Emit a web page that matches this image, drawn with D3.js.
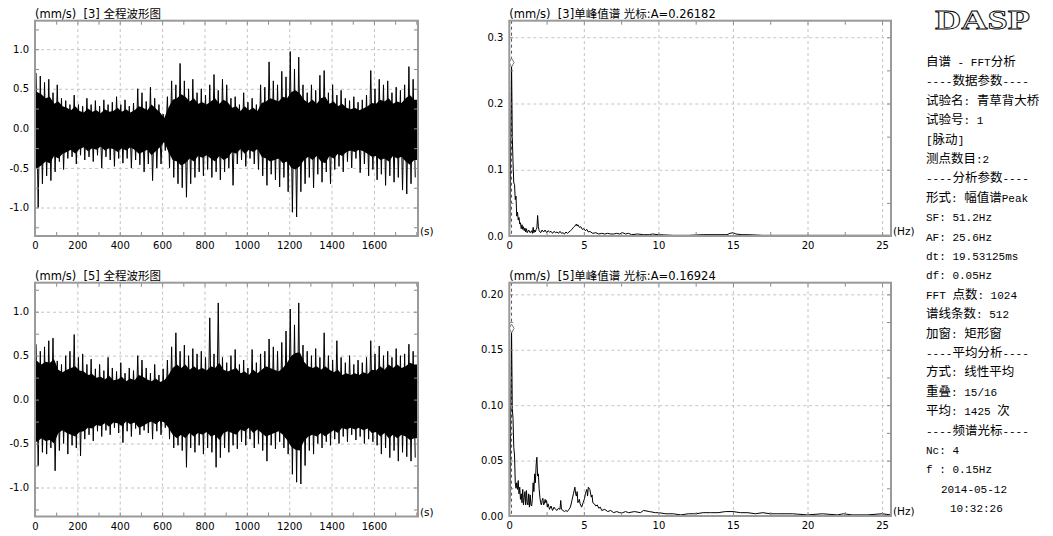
<!DOCTYPE html>
<html>
<head>
<meta charset="utf-8">
<script src="https://cdn.jsdelivr.net/npm/d3@7"></script>
<style>
  body { margin: 0; background: #fff; }
  svg { display: block; }
  .lbl text { font-family: "DejaVu Sans", sans-serif; font-size: 10px; fill: #000; }
  .grid line { stroke: #c4c4c4; stroke-dasharray: 3,3; }
  .inner line { stroke: #8a8a8a; }
  .title { font-family: "DejaVu Sans", "Noto Sans CJK SC", sans-serif; font-size: 11.5px; fill: #000; }
  .unit { font-family: "DejaVu Sans", sans-serif; font-size: 10.5px; fill: #000; }
  .info { white-space: pre; fill: #000; }
</style>
</head>
<body>
<svg id="chart" width="1053" height="536"></svg>
<script>
// ---- data ----
// waveform peaks per 20 s bin (channel 3)
const binSec = 20;
const hi3 = [0.70,0.66,0.58,0.62,0.45,0.55,0.38,0.35,0.30,0.42,
             0.30,0.28,0.38,0.30,0.35,0.28,0.36,0.30,0.33,0.40,
             0.30,0.36,0.28,0.32,0.50,0.45,0.34,0.52,0.38,0.30,
             0.18,0.40,0.60,0.55,0.82,0.60,0.50,0.62,0.45,0.50,
             0.42,0.55,0.68,0.48,0.62,0.55,0.38,0.40,0.30,0.45,
             0.33,0.38,0.30,0.55,0.52,0.84,0.60,0.55,0.72,0.65,
             0.97,0.75,0.90,0.55,0.45,0.55,0.48,0.67,0.73,0.45,
             0.55,0.42,0.48,0.38,0.35,0.40,0.33,0.36,0.42,0.73,
             0.50,0.62,0.55,0.60,0.45,0.52,0.48,0.55,0.78,0.62];
const lo3 = [-1.00,-0.70,-0.60,-0.66,-0.55,-0.42,-0.52,-0.38,-0.36,-0.45,
             -0.34,-0.40,-0.36,-0.42,-0.34,-0.50,-0.36,-0.40,-0.48,-0.38,
             -0.44,-0.38,-0.50,-0.40,-0.46,-0.55,-0.45,-0.66,-0.50,-0.45,
             -0.28,-0.50,-0.62,-0.70,-0.75,-0.87,-0.70,-0.62,-0.55,-0.60,
             -0.52,-0.62,-0.55,-0.65,-0.55,-0.50,-0.72,-0.45,-0.40,-0.48,
             -0.38,-0.45,-0.52,-0.60,-0.72,-0.58,-0.65,-0.74,-0.62,-0.80,
             -1.06,-1.12,-0.80,-0.70,-0.62,-0.75,-0.58,-0.68,-0.55,-0.70,
             -0.52,-0.48,-0.55,-0.42,-0.50,-0.38,-0.56,-0.45,-0.60,-0.52,
             -0.65,-0.58,-0.72,-0.60,-0.68,-0.62,-0.78,-0.83,-0.70,-0.62];
// half width of the solid band, per 20 s bin
const core3 = [0.48,0.45,0.40,0.42,0.33,0.36,0.30,0.28,0.25,0.30,
               0.24,0.22,0.27,0.23,0.25,0.21,0.26,0.23,0.24,0.28,
               0.23,0.26,0.22,0.25,0.30,0.28,0.25,0.32,0.27,0.22,
               0.15,0.28,0.38,0.40,0.45,0.42,0.36,0.40,0.33,0.35,
               0.32,0.36,0.40,0.33,0.38,0.35,0.28,0.30,0.24,0.30,
               0.25,0.28,0.24,0.34,0.36,0.40,0.38,0.36,0.42,0.40,
               0.48,0.50,0.46,0.38,0.34,0.38,0.33,0.40,0.42,0.33,
               0.36,0.30,0.33,0.28,0.26,0.28,0.25,0.27,0.30,0.34,
               0.33,0.38,0.36,0.40,0.33,0.36,0.34,0.40,0.44,0.38];

// channel 5
const hi5 = [0.63,0.55,0.60,0.67,0.70,0.44,0.40,0.50,0.55,0.74,
             0.48,0.52,0.40,0.46,0.35,0.40,0.33,0.48,0.36,0.32,
             0.42,0.30,0.36,0.33,0.50,0.45,0.36,0.30,0.40,0.28,
             0.35,0.45,0.60,0.76,0.55,0.62,0.50,0.58,0.52,0.55,
             0.48,0.93,0.52,1.10,0.48,0.42,0.50,0.57,0.40,0.45,
             0.36,0.57,0.42,0.52,0.55,0.69,0.60,0.55,0.65,0.78,
             1.03,0.85,1.10,0.62,0.55,0.50,0.58,0.48,0.76,0.50,
             0.45,0.67,0.48,0.42,0.50,0.40,0.45,0.42,0.48,0.67,
             0.52,0.61,0.50,0.55,0.48,0.58,0.50,0.52,0.63,0.55];
const lo5 = [-0.75,-0.60,-0.62,-0.55,-0.81,-0.58,-0.50,-0.62,-0.52,-0.55,
             -0.64,-0.45,-0.40,-0.47,-0.36,-0.42,-0.35,-0.40,-0.32,-0.38,
             -0.49,-0.36,-0.42,-0.33,-0.40,-0.35,-0.38,-0.45,-0.36,-0.40,
             -0.32,-0.45,-0.55,-0.52,-0.58,-0.77,-0.55,-0.60,-0.52,-0.62,
             -0.55,-0.60,-0.77,-0.66,-0.55,-0.60,-0.52,-0.56,-0.48,-0.52,
             -0.45,-0.55,-0.50,-0.58,-0.70,-0.52,-0.56,-0.48,-0.55,-0.62,
             -0.85,-0.94,-0.96,-0.75,-0.58,-0.62,-0.50,-0.55,-0.48,-0.52,
             -0.45,-0.50,-0.42,-0.48,-0.40,-0.46,-0.42,-0.50,-0.45,-0.48,
             -0.52,-0.62,-0.55,-0.66,-0.58,-0.70,-0.60,-0.65,-0.70,-0.66];
const core5 = [0.46,0.42,0.45,0.44,0.48,0.36,0.33,0.36,0.38,0.40,
               0.35,0.34,0.30,0.31,0.27,0.28,0.25,0.29,0.24,0.25,
               0.28,0.23,0.26,0.24,0.30,0.28,0.25,0.23,0.26,0.22,
               0.24,0.30,0.38,0.42,0.38,0.42,0.36,0.40,0.36,0.38,
               0.35,0.40,0.38,0.44,0.36,0.34,0.36,0.38,0.32,0.34,
               0.30,0.36,0.32,0.36,0.40,0.38,0.36,0.34,0.38,0.44,
               0.52,0.55,0.56,0.45,0.40,0.38,0.40,0.36,0.40,0.36,
               0.33,0.36,0.30,0.32,0.30,0.32,0.30,0.33,0.31,0.36,
               0.35,0.40,0.36,0.42,0.38,0.42,0.38,0.40,0.44,0.42];

// peak spectra [Hz, mm/s]
const spec3 = [[0,0],[0.05,0.03],[0.10,0.15],[0.15,0.262],[0.20,0.15],[0.25,0.112],[0.30,0.08],[0.35,0.078],
  [0.40,0.055],[0.45,0.06],[0.50,0.03],[0.55,0.036],[0.60,0.024],[0.65,0.028],[0.70,0.018],[0.75,0.02],
  [0.80,0.011],[0.85,0.017],[0.90,0.01],[0.95,0.014],[1.00,0.008],[1.05,0.012],[1.10,0.006],[1.15,0.011],
  [1.20,0.005],[1.30,0.009],[1.40,0.005],[1.50,0.008],[1.55,0.004],[1.60,0.013],[1.65,0.005],[1.70,0.009],
  [1.75,0.006],[1.80,0.01],[1.85,0.012],[1.90,0.031],[1.95,0.014],[2.00,0.008],[2.10,0.005],[2.20,0.009],
  [2.30,0.006],[2.40,0.009],[2.50,0.005],[2.60,0.008],[2.70,0.006],[2.80,0.007],[2.90,0.004],[3.00,0.007],
  [3.10,0.005],[3.20,0.006],[3.30,0.004],[3.40,0.007],[3.50,0.004],[3.60,0.005],[3.70,0.003],[3.80,0.006],
  [3.90,0.004],[4.00,0.006],[4.10,0.008],[4.20,0.01],[4.30,0.013],[4.40,0.015],[4.50,0.018],[4.55,0.015],
  [4.60,0.017],[4.70,0.013],[4.80,0.014],[4.90,0.01],[5.00,0.011],[5.10,0.008],[5.20,0.01],[5.30,0.006],
  [5.40,0.007],[5.60,0.004],[5.80,0.005],[6.00,0.003],[6.20,0.004],[6.40,0.003],[6.60,0.004],[6.80,0.003],
  [7.00,0.003],[7.20,0.004],[7.40,0.003],[7.60,0.005],[7.80,0.003],[8.00,0.004],[8.20,0.002],[8.60,0.003],
  [9.00,0.002],[9.40,0.002],[9.60,0.003],[10.0,0.002],[11.0,0.001],[12.0,0.001],[13.0,0.002],[14.0,0.002],
  [14.6,0.002],[14.8,0.004],[15.0,0.005],[15.2,0.003],[15.6,0.002],[16.0,0.002],[17.0,0.001],[18.0,0.001],
  [20.0,0.001],[22.0,0.001],[24.0,0.001],[25.6,0.001]];
const spec5 = [[0,0],[0.05,0.02],[0.10,0.10],[0.15,0.169],[0.20,0.097],[0.25,0.088],[0.30,0.062],[0.35,0.055],
  [0.40,0.03],[0.45,0.025],[0.50,0.03],[0.55,0.024],[0.60,0.032],[0.65,0.02],[0.70,0.026],[0.75,0.015],
  [0.80,0.02],[0.85,0.012],[0.90,0.024],[0.95,0.01],[1.00,0.017],[1.05,0.022],[1.10,0.01],[1.15,0.023],
  [1.20,0.012],[1.25,0.01],[1.30,0.02],[1.35,0.008],[1.40,0.019],[1.45,0.01],[1.50,0.009],[1.55,0.016],
  [1.60,0.03],[1.65,0.022],[1.70,0.038],[1.75,0.03],[1.80,0.046],[1.85,0.053],[1.90,0.036],[1.95,0.038],
  [2.00,0.025],[2.05,0.017],[2.10,0.012],[2.15,0.01],[2.20,0.014],[2.25,0.016],[2.30,0.01],[2.35,0.011],
  [2.40,0.015],[2.45,0.012],[2.50,0.014],[2.55,0.008],[2.60,0.011],[2.70,0.006],[2.80,0.009],[2.90,0.005],
  [3.00,0.008],[3.10,0.006],[3.20,0.005],[3.30,0.007],[3.40,0.006],[3.45,0.014],[3.50,0.006],[3.60,0.005],
  [3.70,0.004],[3.80,0.005],[3.90,0.004],[4.00,0.006],[4.10,0.008],[4.20,0.014],[4.30,0.02],[4.40,0.026],
  [4.45,0.02],[4.50,0.018],[4.55,0.022],[4.60,0.012],[4.70,0.015],[4.75,0.011],[4.85,0.008],[4.95,0.012],
  [5.05,0.016],[5.10,0.02],[5.20,0.024],[5.25,0.018],[5.30,0.026],[5.40,0.024],[5.50,0.017],[5.55,0.019],
  [5.60,0.012],[5.70,0.011],[5.80,0.009],[5.90,0.01],[6.00,0.007],[6.10,0.008],[6.20,0.005],[6.40,0.006],
  [6.60,0.004],[6.80,0.005],[7.00,0.003],[7.20,0.004],[7.40,0.003],[7.60,0.003],[7.80,0.004],[8.00,0.003],
  [8.40,0.004],[8.80,0.003],[9.00,0.005],[9.40,0.004],[9.80,0.003],[10.0,0.003],[10.5,0.002],[11.0,0.002],
  [11.5,0.001],[12.0,0.002],[12.5,0.002],[13.0,0.003],[13.5,0.003],[14.0,0.003],[14.5,0.004],[15.0,0.004],
  [15.5,0.003],[16.0,0.003],[16.5,0.002],[17.0,0.003],[17.5,0.002],[18.0,0.002],[19.0,0.002],[20.0,0.001],
  [21.0,0.002],[22.0,0.001],[22.4,0.002],[23.0,0.001],[24.0,0.001],[25.0,0.002],[25.6,0.001]];

// cursor
const cursorF = 0.15;
const cursor3 = 0.26182;
const cursor5 = 0.16924;

// tick labels
const waveXTicks = [0,200,400,600,800,1000,1200,1400,1600];
const waveYTicks = [-1.0,-0.5,0.0,0.5,1.0];
const specXTicks = [0,5,10,15,20,25];
const spec3YTicks = [0,0.1,0.2,0.3];
const spec5YTicks = [0,0.05,0.10,0.15,0.20];

const infoLines = [
  "自谱 - FFT分析", "----数据参数----", "试验名: 青草背大桥", "试验号: 1", "[脉动]",
  "测点数目:2", "----分析参数----", "形式: 幅值谱Peak", "SF: 51.2Hz", "AF: 25.6Hz",
  "dt: 19.53125ms", "df: 0.05Hz", "FFT 点数: 1024", "谱线条数: 512", "加窗: 矩形窗",
  "----平均分析----", "方式: 线性平均", "重叠: 15/16", "平均: 1425 次", "----频谱光标----",
  "Nc: 4", "f : 0.15Hz", "2014-05-12", "10:32:26"
];

// ---- panels ----
const svg = d3.select("#chart");

const panels = [
  { id: "w3", kind: "wave", left: 35, right: 418, top: 20.7, bottom: 236,
    xDomain: [0, 1808], yDomain: [-1.36, 1.36], title: "(mm/s)  [3] 全程波形图", unit: "(s)",
    hi: hi3, lo: lo3, core: core3 },
  { id: "w5", kind: "wave", left: 35, right: 418, top: 282.7, bottom: 516.5,
    xDomain: [0, 1808], yDomain: [-1.33, 1.33], title: "(mm/s)  [5] 全程波形图", unit: "(s)",
    hi: hi5, lo: lo5, core: core5 },
  { id: "s3", kind: "spec", left: 509.3, right: 891, top: 20.7, bottom: 236,
    xDomain: [0, 25.6], yDomain: [0, 0.325], title: "(mm/s)  [3]单峰值谱 光标:A=" + cursor3, unit: "(Hz)",
    spec: spec3, cursorA: cursor3, yTicks: spec3YTicks, yMinor: 0.05, fmt: 1 },
  { id: "s5", kind: "spec", left: 509.3, right: 891, top: 282.7, bottom: 516,
    xDomain: [0, 25.6], yDomain: [0, 0.2105], title: "(mm/s)  [5]单峰值谱 光标:A=" + cursor5, unit: "(Hz)",
    spec: spec5, cursorA: cursor5, yTicks: spec5YTicks, yMinor: 0.025, fmt: 2 }
];

function noDomain(g) { g.select(".domain").remove(); }

function writeGrid(g, p, x, y, xt, yt) {
  const w = p.right - p.left, h = p.bottom - p.top;
  g.append("g").attr("class", "grid")
    .attr("transform", `translate(0,${p.bottom})`)
    .call(d3.axisBottom(x).tickValues(xt.filter(d => d > 0)).tickSize(-h).tickFormat(""))
    .call(noDomain);
  g.append("g").attr("class", "grid")
    .attr("transform", `translate(${p.left},0)`)
    .call(d3.axisLeft(y).tickValues(yt).tickSize(-w).tickFormat(""))
    .call(noDomain);
}

function writeInnerTicks(g, p, x, y, xm, ym) {
  g.append("g").attr("class", "inner").attr("transform", `translate(0,${p.top})`)
    .call(d3.axisTop(x).tickValues(xm).tickSize(-4).tickFormat("")).call(noDomain);
  g.append("g").attr("class", "inner").attr("transform", `translate(0,${p.bottom})`)
    .call(d3.axisBottom(x).tickValues(xm).tickSize(-4).tickFormat("")).call(noDomain);
  g.append("g").attr("class", "inner").attr("transform", `translate(${p.left},0)`)
    .call(d3.axisLeft(y).tickValues(ym).tickSize(-4).tickFormat("")).call(noDomain);
  g.append("g").attr("class", "inner").attr("transform", `translate(${p.right},0)`)
    .call(d3.axisRight(y).tickValues(ym).tickSize(-4).tickFormat("")).call(noDomain);
}

function writeLabels(g, p, x, y, xt, yt, fmt) {
  g.append("g").attr("class", "lbl").attr("transform", `translate(0,${p.bottom})`)
    .call(d3.axisBottom(x).tickValues(xt).tickSize(0).tickPadding(6).tickFormat(d => String(d)))
    .call(noDomain);
  g.append("g").attr("class", "lbl").attr("transform", `translate(${p.left},0)`)
    .call(d3.axisLeft(y).tickValues(yt).tickSize(0).tickPadding(6).tickFormat(d => d.toFixed(fmt)))
    .call(noDomain);
}

function writeWave(g, p, x, y) {
  // solid band, ragged per bin
  const core = p.core.map((c, i) => [i * binSec + 10, c]);
  core.unshift([0, p.core[0]]);
  core.push([p.xDomain[1], p.core[p.core.length - 1]]);
  g.append("path")
    .datum(core)
    .attr("fill", "#000")
    .attr("d", d3.area().x(d => x(d[0])).y0(d => y(-d[1] - 0.02)).y1(d => y(d[1] - 0.02)));
  // peaks, alternating up / down inside each bin
  const pts = p.hi.flatMap((h, i) => [[i * binSec + 5, h], [i * binSec + 15, p.lo[i]]]);
  g.append("path")
    .datum(pts)
    .attr("fill", "none")
    .attr("stroke", "#000")
    .attr("stroke-width", 1)
    .attr("d", d3.line().x(d => x(d[0])).y(d => y(d[1])));
}

function writeSpec(g, p, x, y) {
  g.append("line")
    .attr("x1", x(cursorF)).attr("x2", x(cursorF))
    .attr("y1", p.top).attr("y2", p.bottom)
    .attr("stroke", "#555").attr("stroke-dasharray", "3,3");
  g.append("path")
    .datum(p.spec)
    .attr("fill", "none")
    .attr("stroke", "#000")
    .attr("stroke-width", 1)
    .attr("d", d3.line().x(d => x(d[0])).y(d => y(d[1])));
  g.append("path")
    .attr("transform", `translate(${x(cursorF)},${y(p.cursorA)})`)
    .attr("d", d3.symbol(d3.symbolDiamond, 22)())
    .attr("fill", "#fff").attr("stroke", "#777");
}

function writePanel(p) {
  const x = d3.scaleLinear().domain(p.xDomain).range([p.left, p.right]);
  const y = d3.scaleLinear().domain(p.yDomain).range([p.bottom, p.top]);
  const g = svg.append("g").attr("class", "panel-" + p.id);

  const isWave = p.kind === "wave";
  const xt = isWave ? waveXTicks : specXTicks;
  const yt = isWave ? waveYTicks : p.yTicks;
  const xm = isWave ? d3.range(0, 1801, 100) : d3.range(0, 25.01, 2.5);
  const ym = isWave ? d3.range(-1.25, 1.26, 0.25) : d3.range(0, p.yDomain[1], p.yMinor);

  writeGrid(g, p, x, y, xt, yt);

  svg.append("clipPath").attr("id", "clip-" + p.id)
    .append("rect")
    .attr("x", p.left).attr("y", p.top)
    .attr("width", p.right - p.left).attr("height", p.bottom - p.top);
  const data = g.append("g").attr("clip-path", `url(#clip-${p.id})`);
  if (isWave) writeWave(data, p, x, y); else writeSpec(data, p, x, y);

  writeInnerTicks(g, p, x, y, xm, ym);

  g.append("rect")
    .attr("x", p.left).attr("y", p.top)
    .attr("width", p.right - p.left).attr("height", p.bottom - p.top)
    .attr("fill", "none").attr("stroke", "#9a9a9a").attr("stroke-width", 2);

  writeLabels(g, p, x, y, xt, yt, isWave ? 1 : p.fmt);

  g.append("text").attr("class", "title")
    .attr("x", p.left).attr("y", p.top - 3)
    .style("white-space", "pre")
    .text(p.title);

  g.append("text").attr("class", "unit")
    .attr("x", p.right + 2).attr("y", p.bottom - 4)
    .attr("dominant-baseline", "middle")
    .text(p.unit);
}

panels.forEach(writePanel);

// ---- info column ----
function writeInfo(svg) {
  svg.append("text")
    .attr("x", 935).attr("y", 29)
    .attr("textLength", 95).attr("lengthAdjust", "spacingAndGlyphs")
    .attr("font-family", "Liberation Serif, serif")
    .attr("font-weight", "bold")
    .attr("font-size", 27)
    .attr("fill", "#fff").attr("stroke", "#000").attr("stroke-width", 0.8)
    .text("DASP");

  const cjk = /[\u3000-\u9fff\uff00-\uffef]+|[^\u3000-\u9fff\uff00-\uffef]+/g;
  const indent = { 22: 15, 23: 24 };
  infoLines.forEach((line, i) => {
    const t = svg.append("text").attr("class", "info")
      .attr("x", 926 + (indent[i] || 0))
      .attr("y", 66 + i * 19.4);
    line.match(cjk).forEach(run => {
      const isCjk = /[\u3000-\u9fff\uff00-\uffef]/.test(run);
      t.append("tspan")
        .attr("font-family", isCjk ? "Noto Sans CJK SC" : "Liberation Mono, monospace")
        .attr("font-size", isCjk ? 12.5 : 11)
        .text(run);
    });
  });
}
writeInfo(svg);
</script>
</body>
</html>
